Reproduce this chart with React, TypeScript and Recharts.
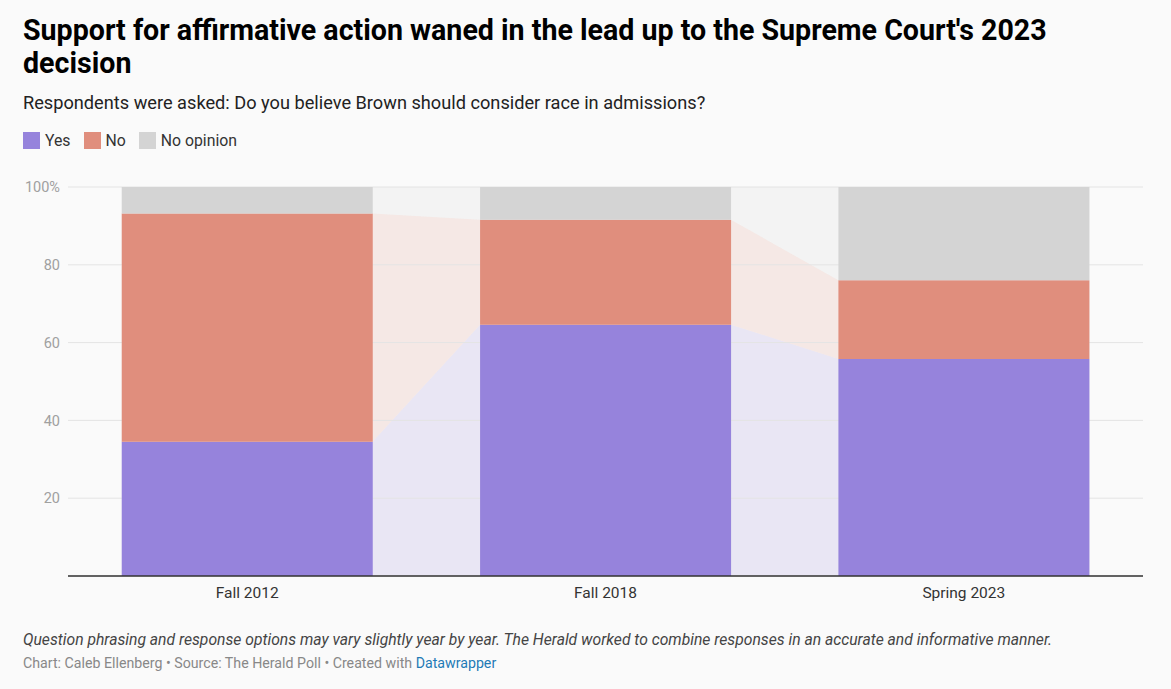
import React from 'react';
import { ComposedChart, BarChart, Bar, Area, XAxis, YAxis, CartesianGrid } from 'recharts';

const categories = ['Fall 2012', 'Fall 2018', 'Spring 2023'];
const yesValues = [34.5, 64.6, 55.8];
const noValues = [58.7, 27.0, 20.2];
const noOpinionValues = [6.8, 8.4, 24.0];
const yTicks = [0, 20, 40, 60, 80, 100];

const COLORS = { yes: '#9683dc', no: '#e08e7d', noOpinion: '#d4d4d4' };
const W = 1171;
const H = 440;
const MARGIN = { top: 17, right: 28, left: 0, bottom: 4 };
const BAR_SHARE = 0.7; // bar takes 70% of its band

const barData = categories.map((name, i) => ({
  name,
  yes: yesValues[i],
  no: noValues[i],
  noOpinion: noOpinionValues[i],
}));

// connector bands run from the right edge of one bar to the left edge of the next
const edgeData = categories.flatMap((name, i) => {
  const row = { yes: yesValues[i], no: noValues[i], noOpinion: noOpinionValues[i] };
  const half = BAR_SHARE / 2;
  return [
    { pos: i + 0.5 - half, ...row },
    { pos: i + 0.5 + half, ...row },
  ];
});

const tickStyle = { fontFamily: 'Roboto', fontSize: 14.5, fill: '#a0a0a0' };

const LegendItem: React.FC<{ color: string; label: string }> = ({ color, label }) => (
  <span style={{ display: 'inline-flex', alignItems: 'center', marginRight: 13 }}>
    <span style={{ width: 17, height: 17, background: color, display: 'inline-block', marginRight: 5 }} />
    <span>{label}</span>
  </span>
);

export default function App() {
  return (
    <div
      style={{
        position: 'absolute',
        top: 0,
        left: 0,
        width: W,
        height: 689,
        background: '#fafafa',
        fontFamily: 'Roboto, sans-serif',
        color: '#222',
        overflow: 'hidden',
      }}
    >
      <div style={{ position: 'absolute', left: 23, top: 14, width: 1100, fontSize: 28.6, fontWeight: 700, lineHeight: '33px', color: '#000' }}>
        Support for affirmative action waned in the lead up to the Supreme Court's 2023 decision
      </div>
      <div style={{ position: 'absolute', left: 23, top: 92, fontSize: 18.2, color: '#222' }}>
        Respondents were asked: Do you believe Brown should consider race in admissions?
      </div>
      <div style={{ position: 'absolute', left: 23, top: 131, fontSize: 15.8, color: '#333', display: 'flex' }}>
        <LegendItem color={COLORS.yes} label="Yes" />
        <LegendItem color={COLORS.no} label="No" />
        <LegendItem color={COLORS.noOpinion} label="No opinion" />
      </div>

      <div style={{ position: 'absolute', left: 0, top: 170, width: W, height: H }}>
        <div style={{ position: 'absolute', left: 0, top: 0 }}>
          <ComposedChart width={W} height={H} data={edgeData} margin={MARGIN}>
            <XAxis dataKey="pos" type="number" domain={[0, 3]} height={30} tick={false} axisLine={false} tickLine={false} />
            <YAxis type="number" domain={[0, 100]} width={68} tick={false} axisLine={false} tickLine={false} />
            <Area type="linear" dataKey="yes" stackId="a" stroke="none" fill={COLORS.yes} fillOpacity={0.16} isAnimationActive={false} />
            <Area type="linear" dataKey="no" stackId="a" stroke="none" fill={COLORS.no} fillOpacity={0.16} isAnimationActive={false} />
            <Area type="linear" dataKey="noOpinion" stackId="a" stroke="none" fill={COLORS.noOpinion} fillOpacity={0.18} isAnimationActive={false} />
          </ComposedChart>
        </div>
        <div style={{ position: 'absolute', left: 0, top: 0 }}>
          <BarChart width={W} height={H} data={barData} margin={MARGIN} barCategoryGap="15%">
            <CartesianGrid vertical={false} stroke="#e4e4e4" />
            <XAxis
              dataKey="name"
              height={30}
              tickLine={false}
              tickSize={0}
              tickMargin={11}
              axisLine={{ stroke: '#333', strokeWidth: 1.5 }}
              tick={{ fontFamily: 'Roboto', fontSize: 15.5, fill: '#333' }}
            />
            <YAxis
              type="number"
              domain={[0, 100]}
              ticks={yTicks}
              width={68}
              axisLine={false}
              tickLine={false}
              tickSize={0}
              tickMargin={8}
              tick={tickStyle}
              tickFormatter={(v: number) => (v === 0 ? '' : v === 100 ? '100%' : String(v))}
            />
            <Bar dataKey="yes" stackId="a" fill={COLORS.yes} isAnimationActive={false} />
            <Bar dataKey="no" stackId="a" fill={COLORS.no} isAnimationActive={false} />
            <Bar dataKey="noOpinion" stackId="a" fill={COLORS.noOpinion} isAnimationActive={false} />
          </BarChart>
        </div>
      </div>

      <div style={{ position: 'absolute', left: 23, top: 630, fontSize: 15.7, fontStyle: 'italic', color: '#444' }}>
        Question phrasing and response options may vary slightly year by year. The Herald worked to combine responses in an accurate and informative manner.
      </div>
      <div style={{ position: 'absolute', left: 23, top: 655, fontSize: 14.2, color: '#888' }}>
        Chart: Caleb Ellenberg • Source: The Herald Poll • Created with <span style={{ color: '#1f7bb6' }}>Datawrapper</span>
      </div>
    </div>
  );
}
